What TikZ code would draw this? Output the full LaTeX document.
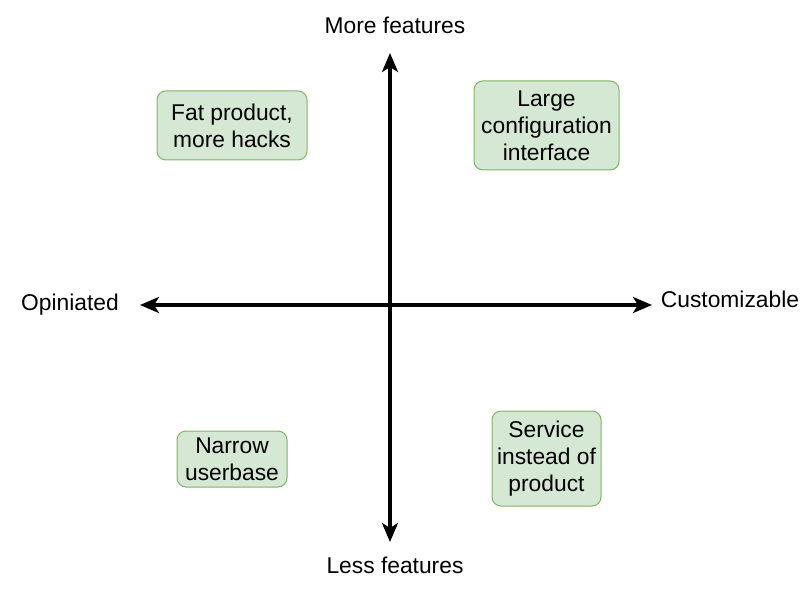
\documentclass[tikz,border=0pt]{standalone}
\usepackage{fontspec}
\setmainfont{Liberation Sans}
\usetikzlibrary{arrows.meta}
\definecolor{boxfill}{HTML}{D5E8D4}
\definecolor{boxline}{HTML}{82B366}
\begin{document}
\begin{tikzpicture}[x=1pt,y=-1pt,
  quad/.style={draw=boxline,fill=boxfill,rounded corners=9pt,line width=1pt,align=center,font=\fontsize{22.8}{27}\selectfont,inner sep=0pt},
  lab/.style={font=\fontsize{22.8}{27}\selectfont,inner sep=0pt},
  axis/.style={line width=3.2pt,{Stealth[length=19pt,width=16pt,inset=5pt]}-{Stealth[length=19pt,width=16pt,inset=5pt]}}]
\useasboundingbox (0,0) rectangle (801,591);
\coordinate (top) at (390,53);
\coordinate (bot) at (390,542);
\coordinate (lft) at (140,305);
\coordinate (rgt) at (652,305);
\draw[axis] (top) -- (bot);
\draw[axis] (lft) -- (rgt);
\node[lab] (more) at (395,25) {More features};
\node[lab] (less) at (395,565) {Less features};
\node[lab] (opin) at (70,305) {Opiniated};
\node[lab] (cust) at (730,299) {Customizable};
\node[quad,minimum width=150pt,minimum height=69pt] (fat) at (232,125.5) {Fat product,\\more hacks};
\node[quad,minimum width=145pt,minimum height=89pt] (large) at (546.5,125.5) {Large\\configuration\\interface};
\node[quad,minimum width=110pt,minimum height=56pt] (narrow) at (232,459) {Narrow\\userbase};
\node[quad,minimum width=109pt,minimum height=95pt] (service) at (546.5,458.5) {Service\\instead of\\product};
\end{tikzpicture}
\end{document}
